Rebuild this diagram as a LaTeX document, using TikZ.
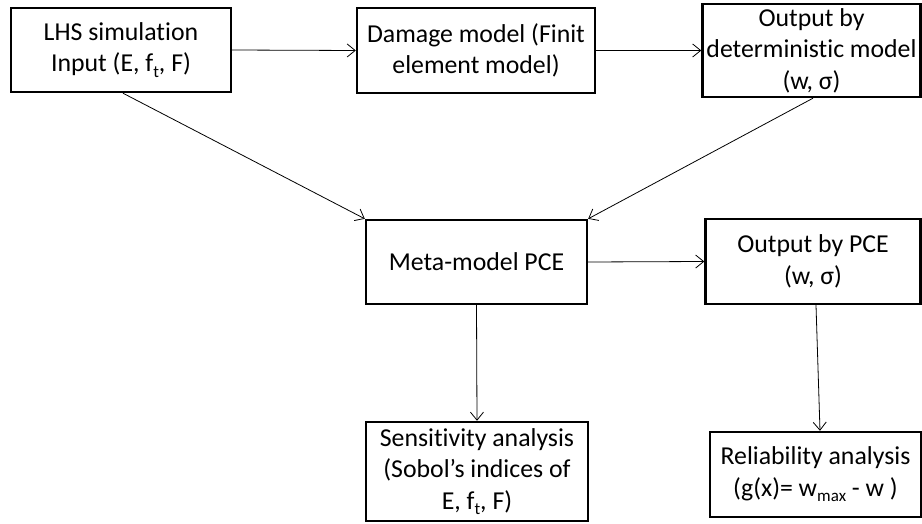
\documentclass[tikz,border=0pt]{standalone}
\usepackage{fontspec}
\setmainfont{Carlito}[Ligatures=NoCommon]
\usetikzlibrary{arrows.meta}
\newcommand{\mysub}[1]{\raisebox{-0.22em}{\fontsize{17}{17}\selectfont #1}}
\tikzset{
  box/.style={draw=black, line width=2.4pt, fill=white, align=center, inner sep=0pt,
    font=\fontsize{25.8}{31.5}\selectfont},
  conn/.style={draw=black, line width=0.8pt, -{Straight Barb[length=8pt,width=13pt,line width=0.8pt]}}
}
\begin{document}
\begin{tikzpicture}[x=1pt,y=-1pt]
\useasboundingbox (0,0) rectangle (922,524);
\node[box, minimum width=220pt, minimum height=84pt] (b1) at (121,50) {LHS simulation\\Input (E, f\mysub{t}, F)};
\node[box, minimum width=238pt, minimum height=85pt] (b2) at (476,50.5) {Damage model (Finit\\element model)};
\node[box, minimum width=218pt, minimum height=93pt] (b3) at (811.5,50.5) {Output by\\deterministic model\\(w, σ)};
\node[box, minimum width=221pt, minimum height=84pt] (b4) at (476.5,262) {Meta-model PCE};
\node[box, minimum width=215pt, minimum height=85pt] (b5) at (813,261.5) {Output by PCE\\(w, σ)};
\node[box, minimum width=222pt, minimum height=99pt] (b6) at (477,471.5) {Sensitivity analysis\\(Sobol’s indices of\\E, f\mysub{t}, F)};
\node[box, minimum width=211pt, minimum height=85pt] (b7) at (815.5,474.5) {Reliability analysis\\(g(x)= w\mysub{max} - w )};
\draw[conn] (b1.east) -- (b2.west);
\draw[conn] (b2.east) -- (b3.west);
\draw[conn] ([xshift=2pt]b1.south) -- (b4.north west);
\draw[conn] ([xshift=1.5pt]b3.south) -- (b4.north east);
\draw[conn] (b4.east) -- (b5.west);
\draw[conn] (b4.south) -- (b6.north);
\draw[conn] ([xshift=3pt]b5.south) -- ([xshift=4.5pt]b7.north);
\end{tikzpicture}
\end{document}
